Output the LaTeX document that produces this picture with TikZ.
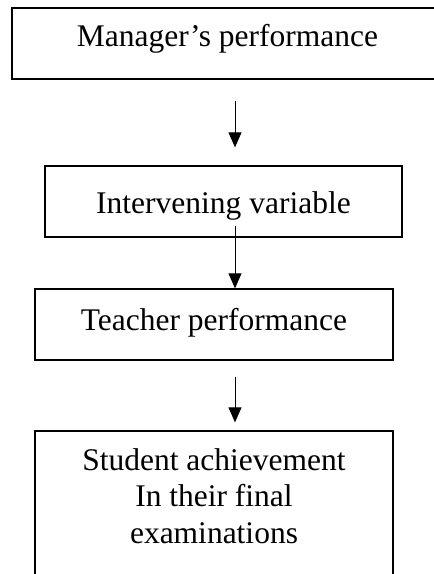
\documentclass[tikz,border=0pt]{standalone}
\usepackage{fontspec}
\setmainfont{Liberation Serif}
\usetikzlibrary{arrows.meta}

\begin{document}
\begin{tikzpicture}[x=1pt, y=-1pt,
    box/.style={draw, line width=1.3pt, inner sep=0pt, anchor=base,
        font=\fontsize{31.5}{36.5}\selectfont},
    flow/.style={line width=1pt, >={Triangle[length=15pt,width=13pt]}, ->}]

    % page (the boxes run off the right and bottom edges)
    \useasboundingbox (0,0) rectangle (434,574);
    \clip (0,0) rectangle (434,574);

    % boxes
    \node [box, minimum width=431pt, text height=38pt, text depth=33pt] (mgr) at (227.5,46) {Manager’s performance};
    \node [box, minimum width=357pt, text height=47pt, text depth=24pt] (inter) at (223.5,213) {Intervening variable};
    \node [box, minimum width=358pt, text height=41pt, text depth=30pt] (teach) at (214,330) {Teacher performance};
    \node [box, minimum width=358pt, text height=39pt, text depth=180pt] (stud) at (214,470)
        {\parbox[t]{340pt}{\centering Student achievement\\In their final\\examinations}};

    % arrows
    \coordinate (axis) at (235,0);
    \draw [flow, shorten <=21pt, shorten >=18pt] (mgr.south -| axis) -- (inter.north -| axis);
    \draw [flow, shorten <=-12pt] (inter.south -| axis) -- (teach.north -| axis);
    \draw [flow, shorten <=16pt, shorten >=8pt] (teach.south -| axis) -- (stud.north -| axis);

\end{tikzpicture}
\end{document}
